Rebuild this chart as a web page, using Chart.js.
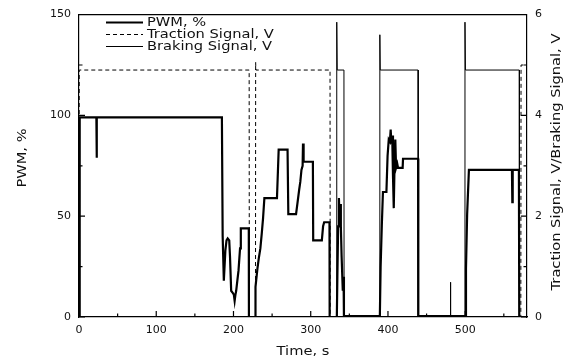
<!DOCTYPE html>
<html>
<head>
<meta charset="utf-8">
<script src="https://cdn.jsdelivr.net/npm/chart.js@4.4.1/dist/chart.umd.min.js"></script>
<style>
  html, body { margin: 0; padding: 0; background: #fff; }
</style>
</head>
<body>
<canvas id="chart" width="573" height="362"></canvas>
<script>
// PWM duty cycle, %
const pwmTime = [0, 0.8, 1, 22.5, 22.8, 23.2, 185, 186, 187.5, 189.5, 191, 192.5, 194.5, 195.5, 197, 199,
  200.5, 201.5, 202.5, 203.5, 205, 206.5, 208.5, 209.5, 219.8, 220, 228.3, 228.5, 231, 232.7, 234.8, 236.5,
  238.3, 240, 256.3, 257.5, 258.5, 270, 271, 281, 283, 285, 286.5, 288, 289.5, 290, 290.8, 302.8, 303.2,
  314.4, 316, 317.4, 324.3, 324.5, 333.8, 334.5, 335.5, 336.5, 337.2, 338, 339, 340, 341.5, 342.5, 343,
  389.5, 390.5, 392, 393.5, 398, 399.5, 401, 402.5, 403.5, 404.5, 405.5, 406.5, 407.5, 408.5, 409.5, 410.5,
  412, 413, 419, 419.5, 439, 439.3, 500, 501, 502.5, 504.8, 560.5, 561, 561.5, 569.5, 570, 580];
const pwmValue = [0, 0, 99, 99, 79, 99, 99, 40, 18, 33, 38, 39, 38, 30, 13, 12,
  11, 8, 11, 13, 18, 23, 34, 44, 44, 0, 0, 15, 24, 29, 34, 41,
  49, 59, 59, 72, 83, 83, 51, 51, 57, 63, 67, 73, 75, 86, 77, 77, 38,
  38, 45, 47, 47, 0, 0, 20, 45, 59, 50, 56, 45, 30, 13, 20, 0.5,
  0.5, 25, 45, 62, 62, 80, 88, 87, 93, 86, 90, 70, 54, 75, 88, 74,
  76, 74, 74, 78.5, 78.5, 0.5, 0.5, 24, 51, 73, 73, 57, 73, 73, 0, 0];

// traction signal, V
const tractionTime = [0, 0.3, 220.3, 220.5, 228.5, 228.7, 229, 325, 325.2, 572, 572.3, 580];
const tractionValue = [0, 4.9, 4.9, 0, 0, 5.05, 4.9, 4.9, 0, 0, 5.0, 5.0];

// braking signal, V
const brakingTime = [0, 333.5, 333.7, 334.3, 343, 343.2, 389.3, 389.5, 390, 439, 439.2, 480.8, 481, 481.2,
  499.5, 499.7, 500.3, 570, 570.2, 580];
const brakingValue = [0, 0, 5.85, 4.9, 4.9, 0, 0, 5.6, 4.9, 4.9, 0, 0, 0.69, 0,
  0, 5.85, 4.9, 4.9, 0, 0];

const xTicks = [0, 100, 200, 300, 400, 500];
const xMinorTicks = [50, 150, 250, 350, 450, 550];
const pwmTicks = [0, 50, 100, 150];
const pwmMinorTicks = [25, 75, 125];
const signalTicks = [0, 2, 4, 6];
const signalMinorTicks = [1, 3, 5];

const toPoints = (xs, ys) => xs.map((x, i) => ({ x, y: ys[i] }));
const tickFont = { family: 'DejaVu Sans', size: 11 };
const textFont = '12px "DejaVu Sans"';
const stretch = 1.22;

function setTicks(values) {
  return scale => {
    scale.ticks = values.map(value => ({ value }));
  };
}

// stretched text, like the scanned figure
function drawText(ctx, text, x, y, angle) {
  ctx.save();
  ctx.translate(x, y);
  ctx.rotate(angle);
  ctx.scale(stretch, 1);
  ctx.fillText(text, 0, 0);
  ctx.restore();
}

const framePlugin = {
  id: 'frame',
  afterDraw(chart) {
    const { ctx, chartArea: a, scales } = chart;
    ctx.save();
    ctx.strokeStyle = '#000';
    ctx.lineWidth = 1.2;
    ctx.beginPath();
    ctx.moveTo(a.left, a.top);
    ctx.lineTo(a.right, a.top);

    const tick = (list, len, fn) => list.forEach(v => fn(v, len));
    const xTick = (v, len) => {
      const px = scales.x.getPixelForValue(v);
      ctx.moveTo(px, a.bottom);
      ctx.lineTo(px, a.bottom - len);
    };
    const yTick = (v, len) => {
      const py = scales.y.getPixelForValue(v);
      ctx.moveTo(a.left, py);
      ctx.lineTo(a.left + len, py);
    };
    const y2Tick = (v, len) => {
      const py = scales.y2.getPixelForValue(v);
      ctx.moveTo(a.right, py);
      ctx.lineTo(a.right - len, py);
    };
    tick(xTicks, 6, xTick);
    tick(xMinorTicks, 3.5, xTick);
    tick(pwmTicks, 6, yTick);
    tick(pwmMinorTicks, 3.5, yTick);
    tick(signalTicks, 6, y2Tick);
    tick(signalMinorTicks, 3.5, y2Tick);
    ctx.stroke();

    // axis titles
    ctx.fillStyle = '#111';
    ctx.font = textFont;
    ctx.textAlign = 'center';
    ctx.textBaseline = 'middle';
    drawText(ctx, 'Time, s', (a.left + a.right) / 2, 352, 0);
    drawText(ctx, 'PWM, %', 23, 158, -Math.PI / 2);
    drawText(ctx, 'Traction Signal, V/Braking Signal, V', 557, 162, -Math.PI / 2);

    // legend in the top left corner
    ctx.textAlign = 'left';
    chart.data.datasets.forEach((ds, i) => {
      const y = 22.5 + i * 12;
      ctx.beginPath();
      ctx.lineWidth = ds.borderWidth;
      ctx.setLineDash(ds.borderDash || []);
      ctx.moveTo(106, y);
      ctx.lineTo(143, y);
      ctx.stroke();
      ctx.setLineDash([]);
      drawText(ctx, ds.label, 147, y, 0);
    });
    ctx.restore();
  }
};

new Chart(document.getElementById('chart'), {
  type: 'line',
  data: {
    datasets: [
      {
        label: 'PWM, %',
        data: toPoints(pwmTime, pwmValue),
        yAxisID: 'y',
        borderColor: '#000',
        borderWidth: 2.2
      },
      {
        label: 'Traction Signal, V',
        data: toPoints(tractionTime, tractionValue),
        yAxisID: 'y2',
        borderColor: '#000',
        borderWidth: 1,
        borderDash: [4, 3]
      },
      {
        label: 'Braking Signal, V',
        data: toPoints(brakingTime, brakingValue),
        yAxisID: 'y2',
        borderColor: '#000',
        borderWidth: 1
      }
    ]
  },
  options: {
    responsive: false,
    animation: false,
    layout: { padding: { top: 12 } },
    elements: { point: { radius: 0 }, line: { tension: 0 } },
    plugins: { legend: { display: false }, tooltip: { enabled: false } },
    scales: {
      x: {
        type: 'linear',
        min: 0,
        max: 580,
        afterBuildTicks: setTicks(xTicks),
        afterFit: scale => { scale.height = 45; },
        grid: { display: false, drawTicks: false },
        border: { color: '#000', width: 1.2 },
        ticks: { font: tickFont, color: '#111', padding: 7, maxRotation: 0 }
      },
      y: {
        position: 'left',
        min: 0,
        max: 150,
        afterBuildTicks: setTicks(pwmTicks),
        afterFit: scale => { scale.width = 79; },
        grid: { display: false, drawTicks: false },
        border: { color: '#000', width: 1.2 },
        ticks: { font: tickFont, color: '#111', padding: 8 }
      },
      y2: {
        position: 'right',
        min: 0,
        max: 6,
        afterBuildTicks: setTicks(signalTicks),
        afterFit: scale => { scale.width = 46; },
        grid: { display: false, drawTicks: false },
        border: { color: '#000', width: 1.2 },
        ticks: { font: tickFont, color: '#111', padding: 8 }
      }
    }
  },
  plugins: [framePlugin]
});
</script>
</body>
</html>
